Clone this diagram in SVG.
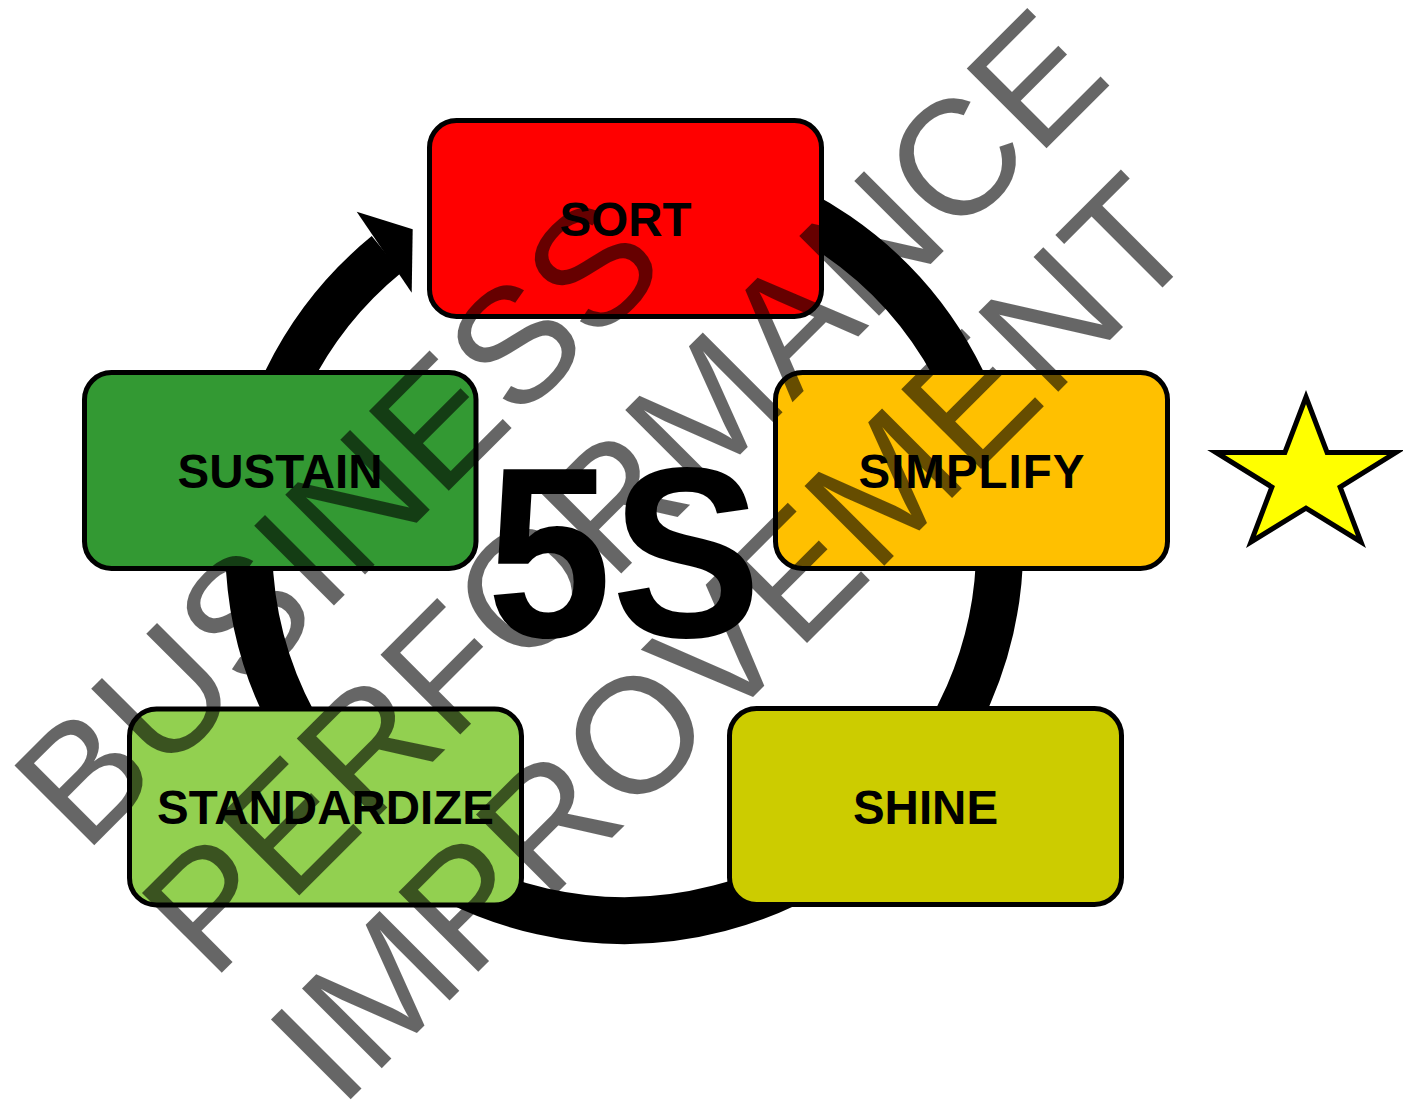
<svg xmlns="http://www.w3.org/2000/svg" width="1403" height="1111" viewBox="0 0 1403 1111">
  <style>
    .box { stroke: #000; stroke-width: 5; }
    .label { font-family: "Liberation Sans", Arial, sans-serif; font-weight: bold; font-size: 47.5px; fill: #000; text-anchor: middle; }
    .big { font-family: "Liberation Sans", Arial, sans-serif; font-weight: bold; font-size: 244px; fill: #000; text-anchor: middle; }
    .mark { font-family: "Liberation Sans", Arial, sans-serif; font-size: 164px; fill: #000; fill-opacity: 0.6; }
  </style>

  <rect width="1403" height="1111" fill="#fff"/>

  <!-- cycle ring with its arrowhead -->
  <g id="connectors">
    <path d="M 689.2 175.2 A 375.5 375.5 0 1 1 386.6 254.3" fill="none" stroke="#000" stroke-width="47"/>
    <polygon points="356.7,211.7 412.7,229.3 411.7,292.7" fill="#000"/>
  </g>

  <!-- the five steps -->
  <g id="sort">
    <rect class="box" x="429.5" y="120.5" width="392" height="196" rx="27" fill="#ff0000"/>
    <text class="label" x="625.5" y="235.5">SORT</text>
  </g>
  <g id="simplify">
    <rect class="box" x="775.5" y="372.5" width="392" height="196" rx="27" fill="#ffc000"/>
    <text class="label" x="971.5" y="487.5" textLength="226" lengthAdjust="spacing">SIMPLIFY</text>
  </g>
  <g id="shine">
    <rect class="box" x="729.5" y="708.5" width="392" height="196" rx="27" fill="#cccc00"/>
    <text class="label" x="925.5" y="823.5">SHINE</text>
  </g>
  <g id="standardize">
    <rect class="box" x="129.5" y="709" width="392" height="196" rx="27" fill="#92d050"/>
    <text class="label" x="325.5" y="824">STANDARDIZE</text>
  </g>
  <g id="sustain">
    <rect class="box" x="84.5" y="372.5" width="391.5" height="196" rx="27" fill="#339933"/>
    <text class="label" x="280" y="487.5">SUSTAIN</text>
  </g>

  <!-- centre title -->
  <g id="title">
    <text class="big" transform="translate(624 637) scale(0.92 1)" x="0" y="0">5S</text>
  </g>

  <!-- star -->
  <g id="star">
    <polygon points="1306,397 1327.1,452.5 1396,452.5 1340.1,487 1361,542 1306,508.1 1251,542 1271.9,487 1216,452.5 1284.9,452.5" fill="#ffff00" stroke="#000" stroke-width="5" stroke-linejoin="miter"/>
  </g>

  <!-- diagonal overlay lettering -->
  <g id="watermark" transform="translate(340 1110) rotate(-45)">
    <text class="mark" x="0" y="-361">BUSINESS</text>
    <text class="mark" x="0" y="-180.5">PERFORMANCE</text>
    <text class="mark" x="0" y="0">IMPROVEMENT</text>
  </g>
</svg>
